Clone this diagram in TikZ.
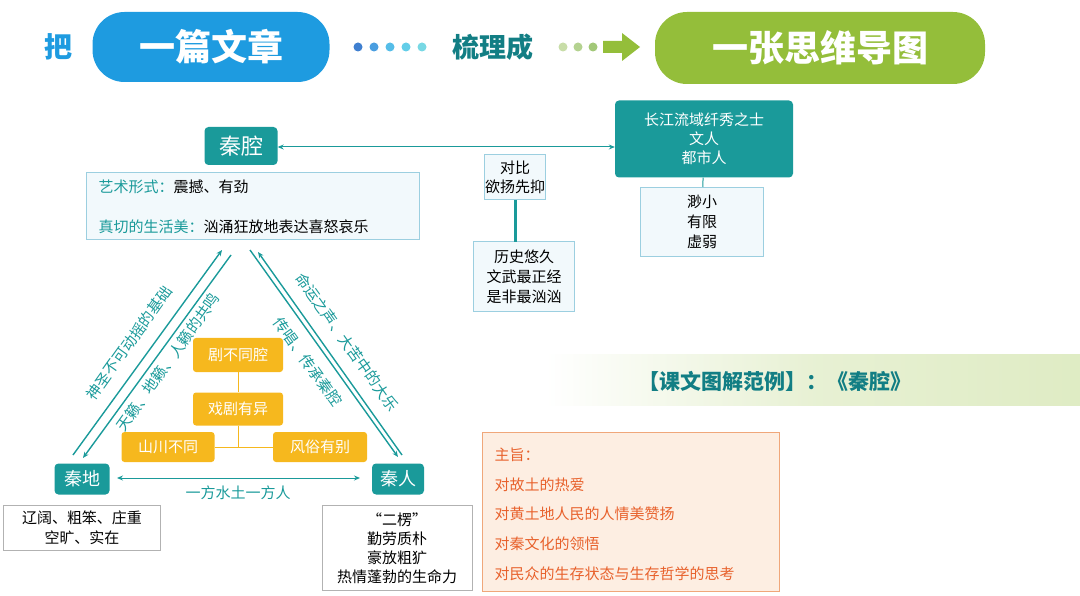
\documentclass[tikz,border=0pt]{standalone}
\usepackage{fontspec}
\setmainfont{Noto Sans CJK SC}
\usetikzlibrary{arrows.meta,calc}
\definecolor{teal1}{HTML}{1A9A9A}
\definecolor{lbord}{HTML}{9CCFE0}
\definecolor{lfill}{HTML}{F2F9FC}
\definecolor{orng}{HTML}{F6B81E}
\definecolor{pblue}{HTML}{1E9BE0}
\definecolor{pgreen}{HTML}{94BE3A}
\definecolor{dteal}{HTML}{127E84}
\definecolor{oline}{HTML}{F0A77A}
\definecolor{ofill}{HTML}{FDEEE2}
\definecolor{otext}{HTML}{E8612C}
\definecolor{d1}{HTML}{3F7FD0}\definecolor{d2}{HTML}{4A9EE0}\definecolor{d3}{HTML}{55BDE8}\definecolor{d4}{HTML}{62CDE8}\definecolor{d5}{HTML}{78D8E4}
\definecolor{g1}{HTML}{C8DDA8}\definecolor{g2}{HTML}{B4D290}\definecolor{g3}{HTML}{A2C878}
\tikzset{
 tbox/.style={fill=teal1,rounded corners=4pt,text=white,align=center,inner sep=0pt},
 lbox/.style={draw=lbord,fill=lfill,line width=1pt,align=center,inner sep=0pt},
 obox/.style={fill=orng,rounded corners=3pt,text=white,font=\fontsize{15}{15}\selectfont,inner sep=0pt},
 conn/.style={draw=teal1,line width=1pt},
 arr/.style={-{Stealth[length=6pt,width=5pt]},draw=teal1,line width=1.4pt},
 pill/.style={rounded corners=32pt,text=white,font=\fontsize{36}{36}\bfseries\selectfont,inner sep=0pt},
 lab/.style={text=teal1,font=\fontsize{15}{15}\selectfont,inner sep=1pt},
 dbox/.style={draw=gray!60,fill=white,align=center,inner sep=0pt},
}
\begin{document}
\begin{tikzpicture}[x=1pt,y=-1pt]
\useasboundingbox (0,0) rectangle (1080,596);
% header
\node[text=pblue,font=\fontsize{28}{28}\bfseries\selectfont] (ba) at (58,47) {把};
\node[pill,fill=pblue,minimum width=237pt,minimum height=70pt] (p1) at (211,47) {一篇文章};
\fill[d1] (358,47) circle (4.5pt);\fill[d2] (374,47) circle (4.5pt);\fill[d3] (390,47) circle (4.5pt);\fill[d4] (406,47) circle (4.5pt);\fill[d5] (422,47) circle (4.5pt);
\node[text=dteal,font=\fontsize{27}{27}\bfseries\selectfont] (sl) at (493,47) {梳理成};
\fill[g1] (563,47) circle (4.5pt);\fill[g2] (578,47) circle (4.5pt);\fill[g3] (593,47) circle (4.5pt);
\fill[pgreen] (603,41) -- (622,41) -- (622,33) -- (640,47) -- (622,61) -- (622,53) -- (603,53) -- cycle;
\node[pill,fill=pgreen,minimum width=330pt,minimum height=72pt] (p2) at (820,48) {一张思维导图};
% top
\node[tbox,minimum width=73pt,minimum height=38pt,font=\fontsize{22}{22}\selectfont] (qq) at (241,146) {秦腔};
\node[lbox,minimum width=333pt,minimum height=67pt] (qd) at (253,206) {};
\node[anchor=west,font=\fontsize{15}{15}\selectfont] (qd1) at (95,187) {\textcolor{teal1}{艺术形式：}震撼、有劲};
\node[anchor=west,font=\fontsize{15}{15}\selectfont] (qd2) at (95,227) {\textcolor{teal1}{真切的生活美：}汹涌狂放地表达喜怒哀乐};
\node[tbox,minimum width=178pt,minimum height=77pt,font=\fontsize{15}{19}\selectfont] (cj) at (704,139) {长江流域纤秀之士\\文人\\都市人};
\node[lbox,minimum width=123pt,minimum height=69pt,font=\fontsize{15}{20}\selectfont] (mx) at (702,222) {渺小\\有限\\虚弱};
\draw[conn] (cj) -- (mx);
\draw[conn,<->,>={Stealth[length=6pt,width=5pt]}] (qq.east |- 0,147) -- (cj.west |- 0,147);
\node[lbox,minimum width=61pt,minimum height=45pt,font=\fontsize{15}{19}\selectfont] (db) at (515,177) {对比\\欲扬先抑};
\node[lbox,minimum width=101pt,minimum height=70pt,font=\fontsize{15}{20}\selectfont] (ls) at (524,277) {历史悠久\\文武最正经\\是非最汹汹};
\draw[teal1,line width=3pt] (db.south) -- (515,242);
% triangle
\node[tbox,minimum width=55pt,minimum height=31pt,font=\fontsize{18}{18}\selectfont] (qdi) at (82,479) {秦地};
\node[tbox,minimum width=52pt,minimum height=31pt,font=\fontsize{18}{18}\selectfont] (qr) at (398,479) {秦人};
\draw[arr] (73,455) -- (222,250);
\draw[arr] (231,255) -- (83,458);
\draw[arr] (250,250) -- (398,457);
\draw[arr] (402,455) -- (258,252);
\node[lab,rotate=54.5] (l1) at (129,343) {神圣不可动摇的基础};
\node[lab,rotate=54.5] (l2) at (168,362) {天籁、地籁、人籁的共鸣};
\node[lab,rotate=-54.5] (r1) at (347,342) {命运之声、大苦中的大乐};
\node[lab,rotate=-54.5] (r2) at (308,362) {传唱、传承秦腔};
\draw[conn,<->,>={Stealth[length=6pt,width=5pt]}] (117,478) -- (360,478);
\node[lab] (yf) at (238,493) {一方水土一方人};
\node[obox,minimum width=90pt,minimum height=34pt] (o1) at (238,355) {剧不同腔};
\node[obox,minimum width=90pt,minimum height=33pt] (o2) at (238,409) {戏剧有异};
\node[obox,minimum width=93pt,minimum height=30pt] (o3) at (168,447) {山川不同};
\node[obox,minimum width=94pt,minimum height=30pt] (o4) at (320,447) {风俗有别};
\draw[orng,line width=1pt] (o1) -- (o2) -- (238,447);
\draw[orng,line width=1pt] (o3) -- (o4);
\node[dbox,minimum width=157pt,minimum height=45pt,font=\fontsize{15}{20}\selectfont] (dd) at (82,528) {辽阔、粗笨、庄重\\空旷、实在};
\node[dbox,minimum width=150pt,minimum height=85pt,font=\fontsize{15}{19}\selectfont] (rd) at (397,548) {“二楞”\\勤劳质朴\\豪放粗犷\\热情蓬勃的生命力};
% banner
\shade[left color=white,right color=pgreen!30,middle color=pgreen!22] (545,355) rectangle (1080,405);
\node[text=dteal,font=\fontsize{21}{21}\bfseries\selectfont] (bn) at (775,381) {【课文图解范例】：《秦腔》};
% zhuzhi
\node[draw=oline,fill=ofill,line width=1pt,minimum width=297pt,minimum height=159pt,inner sep=0pt] (zz) at (631,512) {};
\foreach \t/\y in {主旨：/455,对故土的热爱/485,对黄土地人民的人情美赞扬/514,对秦文化的领悟/544,对民众的生存状态与生存哲学的思考/574}
  \node[anchor=west,text=otext,font=\fontsize{15}{15}\selectfont] at (491,\y) {\t};
\end{tikzpicture}
\end{document}
